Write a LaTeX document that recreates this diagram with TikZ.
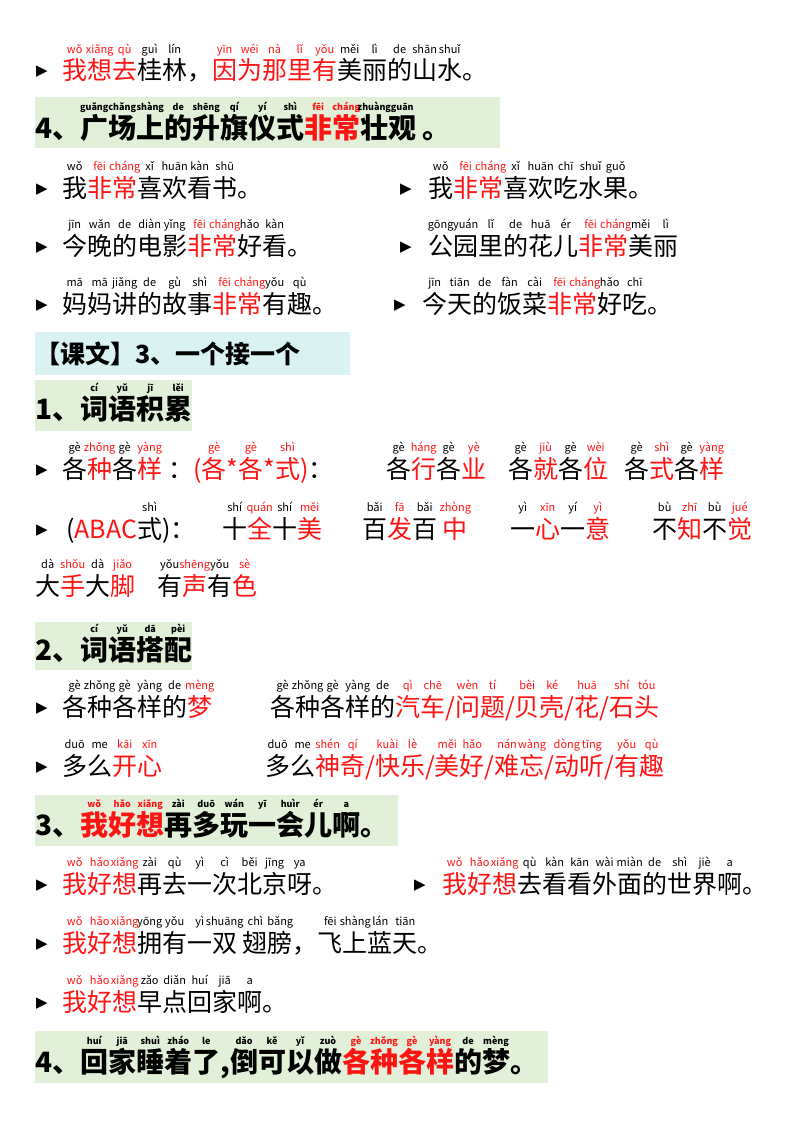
\documentclass[tikz,border=0pt]{standalone}
\usepackage{fontspec}
\setmainfont{Noto Sans CJK SC}
\newfontfamily\dv{DejaVu Sans}
\definecolor{myred}{RGB}{255,20,20}
\definecolor{hgreen}{RGB}{226,240,217}
\definecolor{hcyan}{RGB}{218,242,242}
\newcommand\R[1]{\textcolor{myred}{#1}}
\newcommand\pyf{\fontsize{11}{11}\selectfont}
\newcommand\z[2]{\leavevmode\setbox0\hbox{#2}\rlap{\makebox[\wd0]{\raisebox{27pt}{\pyf #1}}}\box0}
\newcommand\zr[2]{\z{\R{#1}}{\R{#2}}}
\newcommand\zb[2]{\leavevmode\setbox0\hbox{#2}\rlap{\makebox[\wd0]{\raisebox{28pt}{\fontsize{9}{9}\selectfont\bfseries #1}}}\box0}
\newcommand\zbr[2]{\zb{\R{#1}}{\R{#2}}}
\tikzset{
 t/.style={anchor=base west,inner sep=0pt,font=\fontsize{25}{25}\selectfont},
 h/.style={anchor=base west,inner sep=0pt,font=\fontsize{28}{28}\selectfont\bfseries},
 bul/.style={anchor=base,inner sep=0pt,font=\dv\fontsize{15}{15}\selectfont},
}
\begin{document}
\begin{tikzpicture}[x=1pt,y=-1pt]
\path[use as bounding box,fill=white] (0,0) rectangle (800,1132);
% boxes
\fill[hgreen] (35,97) rectangle (500,148);
\fill[hcyan] (35,332) rectangle (350,375);
\fill[hgreen] (35,380) rectangle (192,431);
\fill[hgreen] (35,622) rectangle (192,670);
\fill[hgreen] (35,795) rectangle (398,846);
\fill[hgreen] (35,1031) rectangle (548,1083);
% line 1
\node[bul] (b1) at (42,76) {▶};
\node[t] (l1) at (62,80) {\zr{wǒ}{我}\zr{xiǎng}{想}\zr{qù}{去}\z{guì}{桂}\z{lín}{林}，\zr{yīn}{因}\zr{wéi}{为}\zr{nà}{那}\zr{lǐ}{里}\zr{yǒu}{有}\z{měi}{美}\z{lì}{丽}\z{de}{的}\z{shān}{山}\z{shuǐ}{水}。};
% header 4
\node[h] (h4) at (35,138) {4、\zb{guǎng}{广}\zb{chǎng}{场}\zb{shàng}{上}\zb{de}{的}\zb{shēng}{升}\zb{qí}{旗}\zb{yí}{仪}\zb{shì}{式}\zbr{fēi}{非}\zbr{cháng}{常}\zb{zhuàng}{壮}\zb{guān}{观}\ 。};
% rows
\node[bul] (b2) at (42,193) {▶};
\node[t] (l2) at (62,197) {\z{wǒ}{我}\zr{fēi}{非}\zr{cháng}{常}\z{xǐ}{喜}\z{huān}{欢}\z{kàn}{看}\z{shū}{书}。};
\node[bul] (b2r) at (406,193) {▶};
\node[t] (r2) at (428,197) {\z{wǒ}{我}\zr{fēi}{非}\zr{cháng}{常}\z{xǐ}{喜}\z{huān}{欢}\z{chī}{吃}\z{shuǐ}{水}\z{guǒ}{果}。};
\node[bul] (b3) at (42,251) {▶};
\node[t] (l3) at (62,255) {\z{jīn}{今}\z{wǎn}{晚}\z{de}{的}\z{diàn}{电}\z{yǐng}{影}\zr{fēi}{非}\zr{cháng}{常}\z{hǎo}{好}\z{kàn}{看}。};
\node[bul] (b3r) at (406,251) {▶};
\node[t] (r3) at (428,255) {\z{gōng}{公}\z{yuán}{园}\z{lǐ}{里}\z{de}{的}\z{huā}{花}\z{ér}{儿}\zr{fēi}{非}\zr{cháng}{常}\z{měi}{美}\z{lì}{丽}};
\node[bul] (b4) at (42,309) {▶};
\node[t] (l4) at (62,313) {\z{mā}{妈}\z{mā}{妈}\z{jiǎng}{讲}\z{de}{的}\z{gù}{故}\z{shì}{事}\zr{fēi}{非}\zr{cháng}{常}\z{yǒu}{有}\z{qù}{趣}。};
\node[bul] (b4r) at (400,309) {▶};
\node[t] (r4) at (422,313) {\z{jīn}{今}\z{tiān}{天}\z{de}{的}\z{fàn}{饭}\z{cài}{菜}\zr{fēi}{非}\zr{cháng}{常}\z{hǎo}{好}\z{chī}{吃}。};
% lesson header
\node[h,font=\fontsize{25}{25}\selectfont\bfseries] (kw) at (35,363) {【课文】3、一个接一个};
\node[h] (s1) at (35,419) {1、\zb{cí}{词}\zb{yǔ}{语}\zb{jī}{积}\zb{lěi}{累}};
% 各种各样
\node[bul] (b5) at (42,474) {▶};
\node[t] (g1) at (62,478) {\z{gè}{各}\zr{zhǒng}{种}\z{gè}{各}\zr{yàng}{样}};
\node[t] (g2) at (168,478) {：\R{(}\zr{gè}{各}\R{*}\zr{gè}{各}\R{*}\zr{shì}{式}\R{)}：};
\node[t] (g3) at (386,478) {\z{gè}{各}\zr{háng}{行}\z{gè}{各}\zr{yè}{业}};
\node[t] (g4) at (508,478) {\z{gè}{各}\zr{jiù}{就}\z{gè}{各}\zr{wèi}{位}};
\node[t] (g5) at (624,478) {\z{gè}{各}\zr{shì}{式}\z{gè}{各}\zr{yàng}{样}};
% ABAC
\node[bul] (b6) at (42,534) {▶};
\node[t] (a1) at (66,538) {(\R{ABAC}\z{shì}{式})：};
\node[t] (a2) at (222,538) {\z{shí}{十}\zr{quán}{全}\z{shí}{十}\zr{měi}{美}};
\node[t] (a3) at (362,538) {\z{bǎi}{百}\zr{fā}{发}\z{bǎi}{百}\ \zr{zhòng}{中}};
\node[t] (a4) at (510,538) {\z{yì}{一}\zr{xīn}{心}\z{yí}{一}\zr{yì}{意}};
\node[t] (a5) at (652,538) {\z{bù}{不}\zr{zhī}{知}\z{bù}{不}\zr{jué}{觉}};
\node[t] (d1) at (35,595) {\z{dà}{大}\zr{shǒu}{手}\z{dà}{大}\zr{jiǎo}{脚}};
\node[t] (d2) at (157,595) {\z{yǒu}{有}\zr{shēng}{声}\z{yǒu}{有}\zr{sè}{色}};
% 2
\node[h] (s2) at (35,660) {2、\zb{cí}{词}\zb{yǔ}{语}\zb{dā}{搭}\zb{pèi}{配}};
\node[bul] (b7) at (42,712) {▶};
\node[t] (m1) at (62,716) {\z{gè}{各}\z{zhǒng}{种}\z{gè}{各}\z{yàng}{样}\z{de}{的}\zr{mèng}{梦}};
\node[t] (m2) at (270,716) {\z{gè}{各}\z{zhǒng}{种}\z{gè}{各}\z{yàng}{样}\z{de}{的}\zr{qì}{汽}\zr{chē}{车}\R{/}\zr{wèn}{问}\zr{tí}{题}\R{/}\zr{bèi}{贝}\zr{ké}{壳}\R{/}\zr{huā}{花}\R{/}\zr{shí}{石}\zr{tóu}{头}};
\node[bul] (b8) at (42,771) {▶};
\node[t] (n1) at (62,775) {\z{duō}{多}\z{me}{么}\zr{kāi}{开}\zr{xīn}{心}};
\node[t] (n2) at (265,775) {\z{duō}{多}\z{me}{么}\zr{shén}{神}\zr{qí}{奇}\R{/}\zr{kuài}{快}\zr{lè}{乐}\R{/}\zr{měi}{美}\zr{hǎo}{好}\R{/}\zr{nán}{难}\zr{wàng}{忘}\R{/}\zr{dòng}{动}\zr{tīng}{听}\R{/}\zr{yǒu}{有}\zr{qù}{趣}};
% 3
\node[h] (s3) at (35,835) {3、\zbr{wǒ}{我}\zbr{hǎo}{好}\zbr{xiǎng}{想}\zb{zài}{再}\zb{duō}{多}\zb{wán}{玩}\zb{yī}{一}\zb{huìr}{会}\zb{ér}{儿}\zb{a}{啊}。};
\node[bul] (b9) at (42,889) {▶};
\node[t] (w1) at (62,893) {\zr{wǒ}{我}\zr{hǎo}{好}\zr{xiǎng}{想}\z{zài}{再}\z{qù}{去}\z{yì}{一}\z{cì}{次}\z{běi}{北}\z{jīng}{京}\z{ya}{呀}。};
\node[bul] (b9r) at (420,889) {▶};
\node[t] (w2) at (442,893) {\zr{wǒ}{我}\zr{hǎo}{好}\zr{xiǎng}{想}\z{qù}{去}\z{kàn}{看}\z{kān}{看}\z{wài}{外}\z{miàn}{面}\z{de}{的}\z{shì}{世}\z{jiè}{界}\z{a}{啊}。};
\node[bul] (b10) at (42,948) {▶};
\node[t] (w3) at (62,952) {\zr{wǒ}{我}\zr{hǎo}{好}\zr{xiǎng}{想}\z{yōng}{拥}\z{yǒu}{有}\z{yì}{一}\z{shuāng}{双}\ \z{chì}{翅}\z{bǎng}{膀}，\z{fēi}{飞}\z{shàng}{上}\z{lán}{蓝}\z{tiān}{天}。};
\node[bul] (b11) at (42,1007) {▶};
\node[t] (w4) at (62,1011) {\zr{wǒ}{我}\zr{hǎo}{好}\zr{xiǎng}{想}\z{zǎo}{早}\z{diǎn}{点}\z{huí}{回}\z{jiā}{家}\z{a}{啊}。};
% 4
\node[h] (s4) at (35,1072) {4、\zb{huí}{回}\zb{jiā}{家}\zb{shuì}{睡}\zb{zháo}{着}\zb{le}{了},\zb{dǎo}{倒}\zb{kě}{可}\zb{yǐ}{以}\zb{zuò}{做}\zbr{gè}{各}\zbr{zhǒng}{种}\zbr{gè}{各}\zbr{yàng}{样}\zb{de}{的}\zb{mèng}{梦}。};
\end{tikzpicture}
\end{document}
